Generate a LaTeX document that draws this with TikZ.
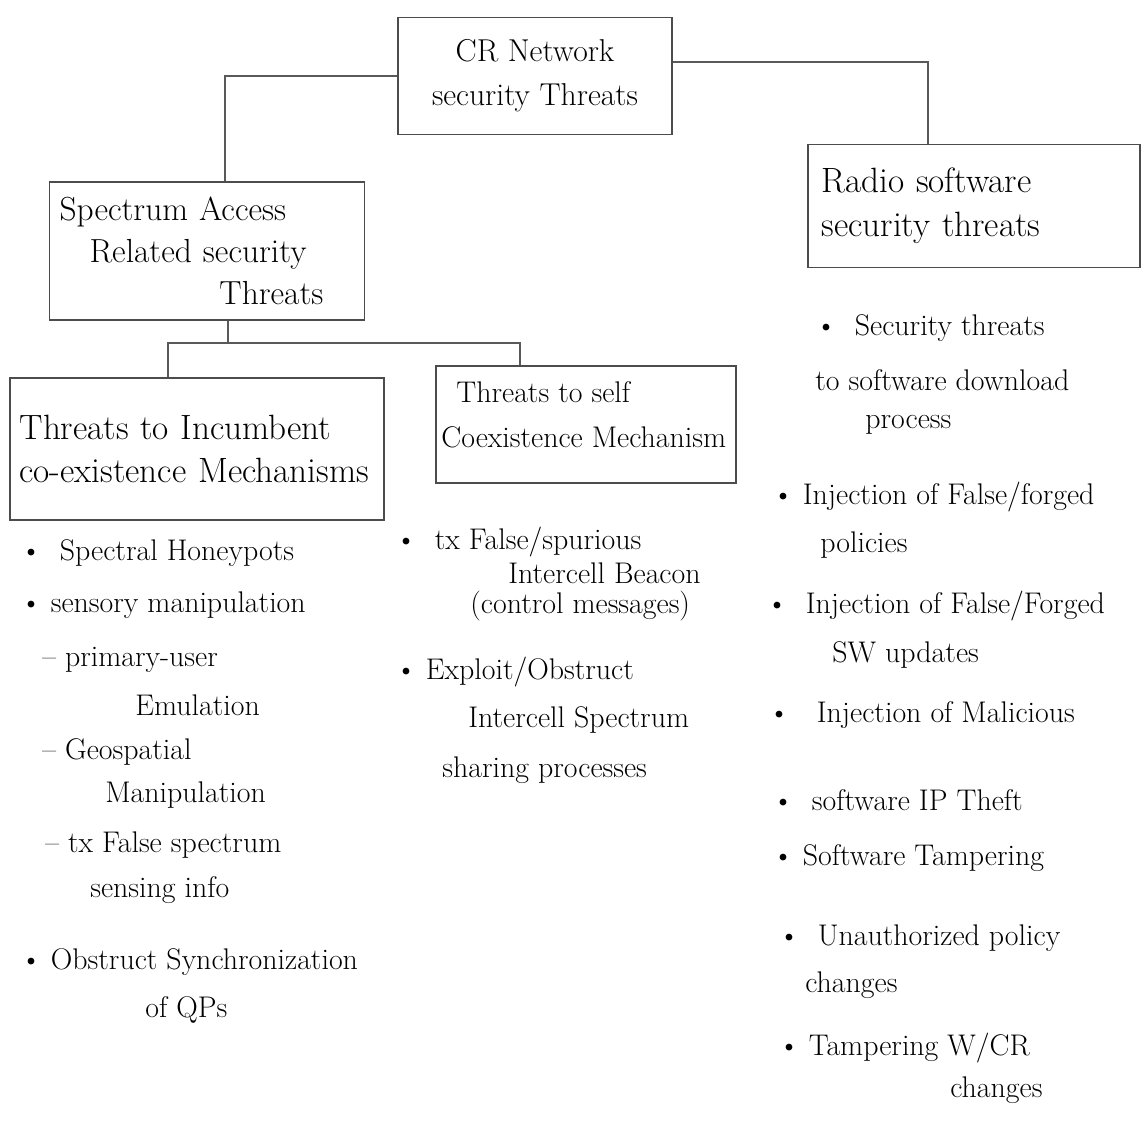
\documentclass[tikz,border=0pt]{standalone}
\usepackage{tikz}
\usetikzlibrary{positioning}

\begin{document}
\begin{tikzpicture}[x=0.02cm,y=-0.02cm,
  box/.style={draw=black!70,line width=1.1pt,inner sep=4pt,font=\fontsize{18}{25}\selectfont},
  boxtext/.style={inner sep=0pt,align=left,font=\fontsize{17}{26}\selectfont},
  item/.style={anchor=west,inner sep=0pt,font=\fontsize{17}{20}\selectfont},
  link/.style={draw=black!65,line width=1pt}]
\useasboundingbox (0,0) rectangle (1144,1121);
% boxes
\node [box,minimum width=5.48cm,minimum height=2.34cm,align=center] (root) at (535,76) {CR Network\\security Threats};
\node [box,minimum width=6.3cm,minimum height=2.76cm,align=left,text width=5.9cm,font=\fontsize{19}{24}\selectfont] (sa) at (207,251) {Spectrum Access\\\hspace*{0.6cm}Related security\\\hspace*{3.2cm}Threats};
\node [box,minimum width=6.64cm,minimum height=2.46cm,align=left,text width=6.1cm,font=\fontsize{20}{25}\selectfont] (rs) at (974,206) {Radio software\\security threats};
\node [box,minimum width=7.5cm,minimum height=2.84cm,align=left,text width=7.1cm,font=\fontsize{20}{24}\selectfont] (inc) at (197,449) {Threats to Incumbent\\co-existence Mechanisms};
\node [box,minimum width=6cm,minimum height=2.34cm,anchor=north west] (self) at (435,365) {};
\node [boxtext,anchor=north west] (selftext) at ([shift={(0.12cm,-0.32cm)}]self.north west) {\hspace*{0.3cm}Threats to self\\Coexistence Mechanism};
% connectors
\coordinate (fork) at (228,343);
\draw [link] (root.west) -| ([xshift=0.36cm]sa.north);
\draw [link] ([yshift=0.28cm]root.east) -| ([xshift=-0.92cm]rs.north);
\draw [link] ([xshift=0.42cm]sa.south) -- (fork);
\draw [link] (fork) -| ([xshift=-0.58cm]inc.north);
\draw [link] (fork) -| ([xshift=1.7cm]self.north west);
% incumbent list
\node [item] (i1) at (20,553) {\textbullet\ \ Spectral Honeypots};
\node [item] (i2) at (20,605) {\textbullet\ sensory manipulation};
\node [item] (i3) at (42,660) {-- primary-user};
\node [item] (i3b) at (135,705) {Emulation};
\node [item] (i4) at (42,752) {-- Geospatial};
\node [item] (i4b) at (105,795) {Manipulation};
\node [item] (i5) at (45,845) {-- tx False spectrum};
\node [item] (i5b) at (90,890) {sensing info};
\node [item] (i6) at (20,962) {\textbullet\ Obstruct Synchronization};
\node [item] (i6b) at (145,1010) {of QPs};
% self list
\node [item] (s1) at (395,542) {\textbullet\ \ tx False/spurious};
\node [item] (s1b) at (508,573) {Intercell Beacon};
\node [item] (s1c) at (470,606) {(control messages)};
\node [item] (s2) at (395,672) {\textbullet\ Exploit/Obstruct};
\node [item] (s2b) at (468,720) {Intercell Spectrum};
\node [item] (s2c) at (442,770) {sharing processes};
% radio software list
\node [item] (r1) at (815,328) {\textbullet\ \ Security threats};
\node [item] (r1b) at (815,380) {to software download};
\node [item] (r1c) at (865,425) {process};
\node [item] (r2) at (772,497) {\textbullet\ Injection of False/forged};
\node [item] (r2b) at (820,545) {policies};
\node [item] (r3) at (766,606) {\textbullet\ \ Injection of False/Forged};
\node [item] (r3b) at (832,655) {SW updates};
\node [item] (r4) at (768,715) {\textbullet\ \ \ Injection of Malicious};
\node [item] (r5) at (772,800) {\textbullet\ \ software IP Theft};
\node [item] (r6) at (772,858) {\textbullet\ Software Tampering};
\node [item] (r7) at (778,938) {\textbullet\ \ Unauthorized policy};
\node [item] (r7b) at (805,985) {changes};
\node [item] (r8) at (778,1048) {\textbullet\ Tampering W/CR};
\node [item] (r8b) at (950,1090) {changes};
\end{tikzpicture}
\end{document}
